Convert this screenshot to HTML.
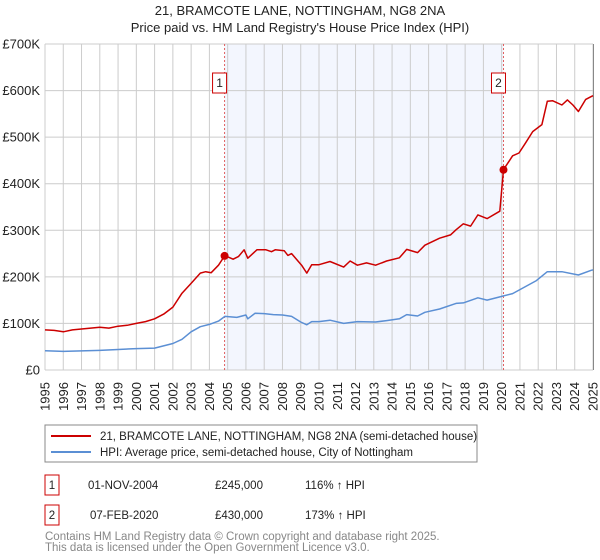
<!DOCTYPE html>
<html><head><meta charset="utf-8"><style>
body{margin:0;background:#fff;font-family:"Liberation Sans",sans-serif;}
svg{display:block}
</style></head><body>
<svg width="600" height="560" viewBox="0 0 600 560" id="chart">
<text x="300" y="15" text-anchor="middle" font-size="13" fill="#222">21, BRAMCOTE LANE, NOTTINGHAM, NG8 2NA</text>
<text x="300" y="32" text-anchor="middle" font-size="13" fill="#222">Price paid vs. HM Land Registry's House Price Index (HPI)</text>
<g id="plot"></g>
<g>
<rect x="45" y="425" width="432" height="37" fill="#fff" stroke="#888"/>
<line x1="51" y1="436" x2="91" y2="436" stroke="#cc0000" stroke-width="2"/>
<text x="100" y="440" font-size="11.5" fill="#222">21, BRAMCOTE LANE, NOTTINGHAM, NG8 2NA (semi-detached house)</text>
<line x1="51" y1="452" x2="91" y2="452" stroke="#5b8fd4" stroke-width="2"/>
<text x="100" y="456" font-size="11.5" fill="#222">HPI: Average price, semi-detached house, City of Nottingham</text>
</g>
<g font-size="11.5" fill="#222">
<rect x="45" y="475" width="14" height="20" fill="#fff" stroke="#cc0000"/>
<text x="52" y="489" text-anchor="middle">1</text>
<text x="88" y="489">01-NOV-2004</text>
<text x="215" y="489">£245,000</text>
<text x="305" y="489">116% ↑ HPI</text>
<rect x="45" y="505" width="14" height="20" fill="#fff" stroke="#cc0000"/>
<text x="52" y="519" text-anchor="middle">2</text>
<text x="90" y="519">07-FEB-2020</text>
<text x="215" y="519">£430,000</text>
<text x="305" y="519">173% ↑ HPI</text>
</g>
<text x="45" y="540" font-size="11.5" fill="#888">Contains HM Land Registry data © Crown copyright and database right 2025.</text>
<text x="45" y="551" font-size="11.5" fill="#888">This data is licensed under the Open Government Licence v3.0.</text>
</svg>
<script>
const yTicks=[0,100,200,300,400,500,600,700];
const yTickLabels=["£0","£100K","£200K","£300K","£400K","£500K","£600K","£700K"];
const xYears=[1995,1996,1997,1998,1999,2000,2001,2002,2003,2004,2005,2006,2007,2008,2009,2010,2011,2012,2013,2014,2015,2016,2017,2018,2019,2020,2021,2022,2023,2024,2025];
const saleDates=[2004.83,2020.1];
const saleValues=[245,430];
const saleLabels=["1","2"];
const propYears=[1995,1995.5,1996,1996.5,1997,1997.5,1998,1998.5,1999,1999.5,2000,2000.5,2001,2001.5,2002,2002.5,2003,2003.5,2003.8,2004.1,2004.5,2004.83,2005,2005.3,2005.6,2005.9,2006.1,2006.6,2007.1,2007.4,2007.6,2008.1,2008.3,2008.5,2009.05,2009.33,2009.6,2010,2010.6,2011.35,2011.7,2012.1,2012.6,2013.1,2013.7,2014.4,2014.8,2015.4,2015.8,2016.6,2017.2,2017.5,2017.9,2018.3,2018.7,2019.2,2019.9,2020.1,2020.6,2020.95,2021.3,2021.7,2022.2,2022.5,2022.8,2023.3,2023.6,2023.9,2024.2,2024.6,2024.9,2025];
const propValues=[86,85,82,86,88,90,92,90,94,96,100,104,110,120,135,165,186,208,211,209,225,245,243,238,244,258,240,258,258,254,258,256,246,250,225,208,226,226,233,221,234,225,230,225,234,241,259,252,268,283,290,301,314,309,333,325,341,430,460,466,487,512,527,577,578,569,580,569,555,581,587,589];
const hpiYears=[1995,1996,1997,1998,1999,2000,2001,2002,2002.5,2003,2003.5,2004,2004.5,2004.85,2005.5,2006,2006.1,2006.5,2007,2007.5,2008,2008.5,2009,2009.33,2009.6,2010,2010.6,2011.35,2012.1,2013.1,2013.7,2014.4,2014.8,2015.4,2015.8,2016.6,2017.5,2017.9,2018.7,2019.2,2019.9,2020.6,2021.3,2021.9,2022.5,2023.3,2024.2,2024.9,2025];
const hpiValues=[41.5,40,41,42,44,46,47,57,66,82,93,98,105,115,113,118,110,122,121,119,118,115,103,97,104,104,107,100,104,103,106,110,119,116,124,131,143,144,155,150,157,164,179,192,211,211,204,214,215];

const X0=45,X1=593,Y0=370,Y1=44;
const xs=y=>X0+(y-1995)*(X1-X0)/30;
const ys=v=>Y0-v*(Y0-Y1)/700;
const NS="http://www.w3.org/2000/svg";
const plot=document.getElementById('plot');
function mk(tag,attrs,parent){const e=document.createElementNS(NS,tag);for(const k in attrs)e.setAttribute(k,attrs[k]);(parent||plot).appendChild(e);return e;}

const bg=mk('rect',{x:X0,y:Y1,width:X1-X0,height:Y0-Y1,fill:'#fff'});


const shade=mk('rect',{x:xs(saleDates[0]),y:Y1,width:xs(saleDates[1])-xs(saleDates[0]),height:Y0-Y1,fill:'#f3f6fe'});



xYears.forEach(yr=>{
  const l=mk('line',{x1:xs(yr),x2:xs(yr),y1:Y1,y2:Y0,stroke:'#cccccc','stroke-width':1});
  
  
  const t=mk('text',{x:0,y:0,transform:`translate(${xs(yr)+4.5},382) rotate(-90)`,'text-anchor':'end','font-size':13,fill:'#222'});
  
  
  t.textContent=yr;
});
yTicks.forEach((v,i)=>{
  const l=mk('line',{x1:X0,x2:X1,y1:ys(v),y2:ys(v),stroke:'#cccccc','stroke-width':1});
  
  
  const t=mk('text',{x:40,y:ys(v)+4.5,'text-anchor':'end','font-size':13,fill:'#222'});
  
  
  t.textContent=yTickLabels[i];
});
const re=mk('line',{x1:X1+0.5,x2:X1+0.5,y1:Y1,y2:Y0,stroke:'#888','stroke-width':1});



saleDates.forEach((d,i)=>{
  const l=mk('line',{x1:xs(d),x2:xs(d),y1:Y1,y2:Y0,stroke:'#e06060','stroke-width':1,'stroke-dasharray':'2,2'});
  
  
});

function pts(xa,va){return xa.map((y,i)=>xs(y).toFixed(1)+','+ys(va[i]).toFixed(1)).join(' ');}
const hpi=mk('polyline',{points:pts(hpiYears,hpiValues),fill:'none',stroke:'#5b8fd4','stroke-width':1.5,'stroke-linejoin':'round'});


const prop=mk('polyline',{points:pts(propYears,propValues),fill:'none',stroke:'#cc0000','stroke-width':1.5,'stroke-linejoin':'round'});



saleDates.forEach((d,i)=>{
  const c=mk('circle',{cx:xs(d),cy:ys(saleValues[i]),r:4,fill:'#cc0000'});
  
  
  const b=mk('rect',{x:xs(d)-12,y:73,width:14,height:20,fill:'#fff',stroke:'#cc0000'});
  
  
  const t=mk('text',{x:xs(d)-5,y:87,'text-anchor':'middle','font-size':12,fill:'#222'});
  
  
  t.textContent=saleLabels[i];
});
</script>
</body></html>
